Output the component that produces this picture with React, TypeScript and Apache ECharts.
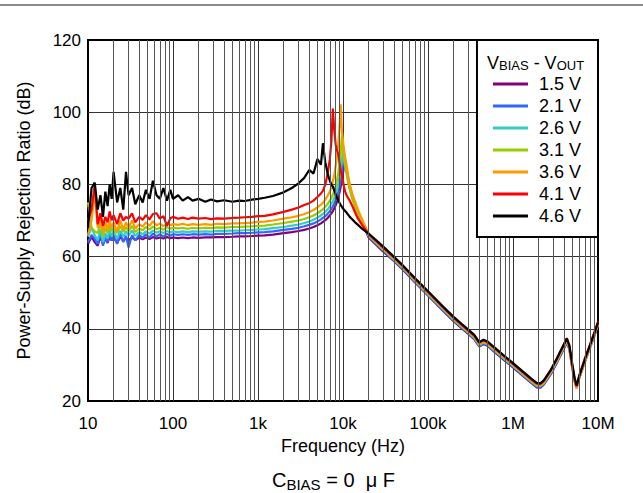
import React, { useEffect, useRef } from 'react';
import * as echarts from 'echarts';

// Frequency grid (Hz) shared by all curves
const FREQ_HZ = [
  10, 11, 12, 13, 14, 15, 16, 17, 18, 19, 20, 22, 24, 26, 28, 30, 33, 36, 40, 44, 48, 53, 58, 64, 70, 77, 85, 93,
  100, 115, 130, 150, 170, 200, 240, 280, 330, 400, 500, 600, 700, 850, 1000,
  1200, 1500, 2000, 2500, 3000, 3500, 4000, 4500, 5000, 5500, 5800, 6200, 6600, 7000, 7300, 7600, 7900, 8200, 8500,
  8800, 9100, 9400, 9700, 10000, 10300, 10600, 11000, 11500, 12000, 13000, 14000, 15000, 17000, 20000, 25000, 30000,
  40000, 50000, 70000, 100000, 150000, 200000, 250000, 300000, 350000, 400000, 450000, 500000, 600000, 800000,
  1000000, 1300000, 1600000, 1900000, 2100000, 2300000, 2800000, 3300000, 3800000, 4300000, 4600000, 5000000,
  5300000, 5600000, 6000000, 7000000, 8000000, 9000000, 10000000,
];

const SERIES_NAMES = ['1.5 V', '2.1 V', '2.6 V', '3.1 V', '3.6 V', '4.1 V', '4.6 V'];
const SERIES_COLORS = ['#800080', '#3366ff', '#33cccc', '#99cc00', '#ff9900', '#ff0000', '#000000'];

const PSRR_1V5 = [
  63.5, 65.5, 64, 63, 65.5, 63.5, 65, 63.8, 65.5, 64.5, 65.3, 63.8, 65.5, 64.3, 65.2, 64.5, 65.3, 64.6, 65.2, 64.8,
  65.3, 64.9, 65.4, 65, 65.3, 65, 65.4, 65.1, 65.3, 65.1, 65.3, 65.1, 65.3, 65.2, 65.3, 65.3, 65.4, 65.4, 65.5, 65.6,
  65.6, 65.7, 65.8,
  65.9, 66.1, 66.5, 66.8, 67.1, 67.4, 67.8, 68.2, 68.7, 69.2, 69.6, 70.1, 70.7, 71.4, 72, 72.6, 73.4, 74.2, 75.2,
  76.4, 77.8, 79.4, 81.2, 83.2, 85, 86, 84, 81.5, 79.4, 76.2, 73.8, 72, 69.3, 65.3, 63.1, 61.3,
  58.7, 56.5, 52.9, 49.2, 45, 42.1, 40.1, 38.5, 37.1, 35.1, 35.8, 35.3, 33.7, 31.2, 29.3, 27, 25.2, 23.8, 23.7, 24.5,
  27.5, 30.7, 33.6, 36.2, 34.4, 29, 25.6, 23.6, 26.2, 30.8, 34.6, 37.8, 40.8,
];
const PSRR_2V1 = [
  64, 66, 65, 63.5, 66.5, 63, 65.5, 64, 66.5, 64.5, 66, 63.5, 66.5, 64, 65.8, 62.5, 66, 64.5, 66, 65.2,
  66.2, 65.3, 66.4, 65.6, 66.2, 65.5, 66.3, 65.8, 66.2, 66, 66.2, 66, 66.2, 66.1, 66.2, 66.1, 66.3, 66.3, 66.4, 66.5,
  66.5, 66.6, 66.7,
  66.8, 67, 67.4, 67.7, 68, 68.4, 68.8, 69.2, 69.7, 70.3, 70.7, 71.2, 71.9, 72.6, 73.2, 73.9, 74.7, 75.6, 76.7,
  78, 79.5, 81.3, 83.4, 85.8, 88, 85.8, 83.8, 81.3, 79.3, 76.2, 73.9, 72.2, 69.5, 65.6, 63.4, 61.6,
  58.9, 56.7, 53.1, 49.4, 45.2, 42.3, 40.3, 38.7, 37.3, 35.3, 36, 35.5, 33.9, 31.4, 29.5, 27.2, 25.4, 24, 23.9, 24.7,
  27.7, 30.9, 33.8, 36.4, 34.6, 29.4, 26, 24, 26.6, 31.3, 35, 38.2, 41,
];
const PSRR_2V6 = [
  65.5, 68, 66, 64.5, 67.5, 64, 66.5, 65, 67.5, 65.5, 67, 65, 67.2, 65.5, 67, 65.8, 67.2, 65.8, 66.8, 66.2,
  67, 66.4, 67.2, 66.6, 67, 66.5, 67.1, 66.7, 67, 66.8, 67, 66.8, 67, 66.9, 67, 66.9, 67.1, 67.1, 67.2, 67.2,
  67.3, 67.4, 67.5,
  67.6, 67.9, 68.2, 68.6, 68.9, 69.3, 69.7, 70.2, 70.8, 71.4, 71.8, 72.4, 73.1, 73.9, 74.6, 75.4, 76.3, 77.4, 78.6,
  80.1, 81.9, 84, 86.6, 90, 87.5, 85.5, 83.5, 81, 79, 76, 73.8, 72.2, 69.6, 65.8, 63.6, 61.8,
  59.1, 56.9, 53.3, 49.6, 45.4, 42.5, 40.5, 38.9, 37.5, 35.5, 36.2, 35.7, 34.1, 31.6, 29.7, 27.4, 25.6, 24.2, 24.1, 24.9,
  27.9, 31.1, 34, 36.6, 34.8, 29.2, 25.6, 23.6, 26.4, 31, 34.9, 38.3, 41.3,
];
const PSRR_3V1 = [
  75, 68, 67, 66.5, 69.5, 65.5, 68, 66.5, 69, 67, 68, 66.5, 68.5, 66.8, 68.2, 67, 68.5, 66.8, 67.8, 67.3,
  68.2, 67.5, 68.3, 67.6, 68, 67.4, 68.2, 67.7, 68, 67.8, 68, 67.7, 68, 67.8, 68, 67.9, 68.1, 68, 68.2, 68.2,
  68.3, 68.4, 68.5,
  68.6, 68.9, 69.3, 69.7, 70, 70.4, 70.9, 71.4, 72, 72.7, 73.1, 73.8, 74.6, 75.5, 76.3, 77.2, 78.3, 79.6, 81.2,
  83.2, 85.8, 89, 93.5, 90, 87, 85, 83, 80.5, 78.5, 75.6, 73.6, 72, 69.5, 66, 63.8, 62,
  59.3, 57.1, 53.5, 49.8, 45.6, 42.7, 40.7, 39.1, 37.7, 35.7, 36.4, 35.9, 34.3, 31.8, 29.9, 27.6, 25.8, 24.4, 24.3, 25.1,
  28.1, 31.3, 34.2, 36.8, 35, 29.4, 25.8, 23.8, 26.5, 31.2, 35, 38.4, 41.5,
];
const PSRR_3V6 = [
  66, 70, 78, 68, 70.5, 66.5, 69.5, 67.5, 70, 68, 69.5, 67, 70, 67.5, 69.5, 68, 70, 67.8, 69, 68.3,
  69.5, 68.5, 69.8, 68.6, 69.2, 68.4, 69.3, 68.7, 69, 68.8, 69.1, 68.7, 69, 68.8, 69, 68.8, 69.1, 69, 69.2, 69.2,
  69.3, 69.4, 69.6,
  69.7, 70, 70.5, 70.9, 71.3, 71.8, 72.3, 72.9, 73.6, 74.4, 74.9, 75.8, 76.9, 78, 79.2, 80.8, 82.7, 85, 88,
  91.5, 96, 102.2, 95, 92, 89.5, 87.5, 85.5, 82.5, 80, 77, 75, 73, 70, 66.3, 64, 62.2,
  59.5, 57.3, 53.7, 50, 45.8, 42.9, 40.9, 39.3, 37.9, 35.9, 36.6, 36.1, 34.5, 32, 30.1, 27.8, 26, 24.6, 24.5, 25.3,
  28.3, 31.5, 34.4, 37, 34.8, 29, 25.5, 23.5, 26.3, 31, 34.8, 38.2, 41.3,
];
const PSRR_4V1 = [
  70, 73, 80, 69, 72, 68.5, 71, 69.5, 72.5, 70, 71.5, 69, 72, 70, 71, 70.5, 72, 69.5, 71, 70.2,
  71.5, 70.3, 71.8, 72, 70.5, 71.2, 68.5, 70.6, 71, 70.5, 70.8, 70.4, 70.8, 70.5, 70.7, 70.4, 70.6, 70.5, 70.7, 70.8,
  70.9, 71, 71.2,
  71.3, 71.7, 72.4, 73, 73.6, 74.3, 74.8, 75.5, 76.5, 77.5, 78.2, 80, 83, 87, 92, 101, 95, 91, 89.5,
  88.3, 86, 84, 82.3, 80.8, 79.2, 78, 77, 76.2, 75.5, 73.8, 72, 70.5, 68.6, 66.2, 64.1, 62.4,
  59.7, 57.5, 53.9, 50.2, 46, 43.1, 41.1, 39.5, 38.1, 36.1, 36.8, 36.3, 34.7, 32.2, 30.3, 28, 26.2, 24.8, 24.7, 25.5,
  28.6, 31.8, 34.7, 37.4, 35.2, 29.6, 26, 24, 27, 31.8, 35.5, 38.9, 42,
];
const PSRR_4V6 = [
  68, 79, 80.5, 73, 77, 71, 78, 74, 80, 76, 83.5, 75, 79, 73, 83.5, 77, 79, 74.5, 77, 75,
  78.5, 76, 81, 77, 76, 79, 75.5, 78.5, 76, 77, 75.5, 76.5, 75.5, 76, 75.2, 75.8, 75.3, 75.6, 75.2, 75.5,
  75.4, 75.8, 76,
  76.3, 76.8, 77.8, 79, 80.3, 81.8, 84, 83, 87, 85.5, 91.4, 86, 83, 81, 80, 79.4, 78.3, 77.2, 76.3,
  75.5, 74.9, 74.3, 73.8, 73.3, 73, 72.6, 72.2, 71.6, 71, 70.2, 69.4, 68.8, 67.6, 66.4, 64.4, 62.7,
  59.9, 57.7, 54.1, 50.4, 46.2, 43.3, 41.3, 39.7, 38.3, 36.3, 37, 36.5, 34.9, 32.4, 30.5, 28.2, 26.4, 25, 24.9, 25.7,
  28.7, 31.9, 34.8, 37.3, 35.5, 30, 26.5, 24.3, 26.8, 31.5, 35.3, 38.6, 41.7,
];
const SERIES_VALUES = [PSRR_1V5, PSRR_2V1, PSRR_2V6, PSRR_3V1, PSRR_3V6, PSRR_4V1, PSRR_4V6];

const X_TICK_LABELS = ['10', '100', '1k', '10k', '100k', '1M', '10M'];
const X_MIN = 10;
const X_MAX = 10000000;
const Y_MIN = 20;
const Y_MAX = 120;
const Y_STEP = 20;

const FONT = '"Liberation Sans", Arial, Helvetica, sans-serif';

export default function App() {
  const ref = useRef<HTMLDivElement>(null);

  useEffect(() => {
    document.body.style.margin = '0';
    const chart = echarts.init(ref.current!, null, { renderer: 'svg' });

    const minorLines: number[] = [];
    for (let d = 1; d <= 6; d++) {
      for (let m = 2; m <= 9; m++) minorLines.push(m * Math.pow(10, d));
    }

    const lineSeries = SERIES_NAMES.map((name, i) => ({
      name,
      type: 'line',
      data: FREQ_HZ.map((f, j) => [f, SERIES_VALUES[i][j]]),
      showSymbol: false,
      symbol: 'none',
      smooth: false,
      z: 3,
      lineStyle: { color: SERIES_COLORS[i], width: 2.2 },
      itemStyle: { color: SERIES_COLORS[i] },
      emphasis: { disabled: true },
    }));

    const option: any = {
      animation: false,
      backgroundColor: '#ffffff',
      textStyle: { fontFamily: FONT },
      grid: {
        left: 88,
        right: 45,
        top: 40,
        bottom: 92,
        show: true,
        borderColor: '#000',
        borderWidth: 2,
        backgroundColor: 'transparent',
        containLabel: false,
      },
      xAxis: {
        type: 'log',
        logBase: 10,
        min: X_MIN,
        max: X_MAX,
        splitNumber: 6,
        name: 'Frequency (Hz)',
        nameLocation: 'middle',
        nameGap: 34,
        nameTextStyle: { fontSize: 18, color: '#000', fontFamily: FONT },
        axisLine: { show: false },
        axisTick: { show: false },
        axisLabel: {
          fontSize: 17,
          color: '#000',
          fontFamily: FONT,
          margin: 14,
          showMinLabel: true,
          showMaxLabel: true,
          formatter: (v: number) => X_TICK_LABELS[Math.round(Math.log10(v)) - 1] ?? '',
        },
        splitLine: {
          show: true,
          showMinLine: false,
          showMaxLine: false,
          lineStyle: { color: '#333', width: 1 },
        },
      },
      yAxis: {
        type: 'value',
        min: Y_MIN,
        max: Y_MAX,
        interval: Y_STEP,
        name: 'Power-Supply Rejection Ratio (dB)',
        nameLocation: 'middle',
        nameGap: 55,
        nameTextStyle: { fontSize: 18, color: '#000', fontFamily: FONT },
        axisLine: { show: false },
        axisTick: { show: false },
        axisLabel: { fontSize: 17, color: '#000', fontFamily: FONT, margin: 7 },
        splitLine: {
          show: true,
          showMinLine: false,
          showMaxLine: false,
          lineStyle: { color: '#333', width: 1 },
        },
      },
      legend: {
        orient: 'vertical',
        right: 45,
        top: 40,
        backgroundColor: '#fff',
        borderColor: '#000',
        borderWidth: 2,
        borderRadius: 0,
        padding: [35, 17, 12, 16],
        itemWidth: 35,
        itemHeight: 3,
        itemGap: 4,
        icon: 'rect',
        selectedMode: false,
        textStyle: { fontSize: 18, color: '#000', fontFamily: FONT, lineHeight: 18, padding: [0, 0, 0, 6] },
        data: SERIES_NAMES,
        z: 10,
      },
      graphic: [
        {
          type: 'line',
          shape: { x1: 0, y1: 5, x2: 643, y2: 5 },
          style: { stroke: '#8a8a8a', lineWidth: 2 },
          z: 100,
        },
        {
          type: 'text',
          left: 487,
          top: 54,
          z: 100,
          style: {
            text: 'V{s|BIAS} - V{s|OUT}',
            fontSize: 18,
            lineHeight: 18,
            fill: '#000',
            fontFamily: FONT,
            rich: {
              s: { fontSize: 13, lineHeight: 13, fontFamily: FONT, fill: '#000', padding: [5, 0, 0, 0] },
            },
          },
        },
        {
          type: 'text',
          left: 272,
          top: 470,
          z: 100,
          style: {
            text: 'C{s|BIAS} = 0  μ F',
            fontSize: 20,
            fill: '#000',
            fontFamily: FONT,
            rich: {
              s: { fontSize: 15, fontFamily: FONT, fill: '#000', padding: [8, 0, 0, 0] },
            },
          },
        },
      ],
      series: [
        {
          name: '__grid',
          type: 'line',
          data: [],
          z: 1,
          silent: true,
          markLine: {
            silent: true,
            symbol: ['none', 'none'],
            label: { show: false },
            lineStyle: { color: '#555', width: 1, type: 'solid' },
            emphasis: { disabled: true },
            data: minorLines.map((v) => ({ xAxis: v })),
          },
        },
        ...lineSeries,
      ],
    };

    chart.setOption(option);
    return () => chart.dispose();
  }, []);

  return (
    <div
      ref={ref}
      style={{ position: 'fixed', left: 0, top: 0, width: 643, height: 493, background: '#fff' }}
    />
  );
}
